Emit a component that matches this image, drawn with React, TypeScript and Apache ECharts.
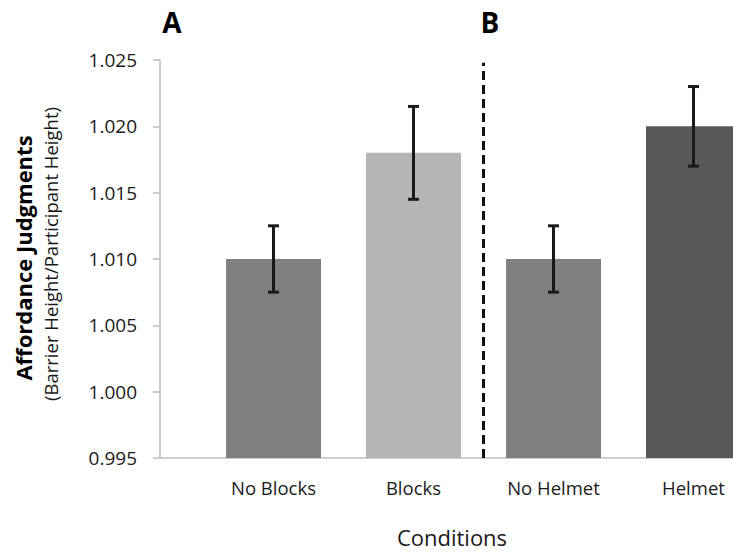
import React, { useEffect, useRef } from "react";
import * as echarts from "echarts";

const categories = ["No Blocks", "Blocks", "No Helmet", "Helmet"];
const means = [1.01, 1.018, 1.01, 1.02];
const errors = [0.0025, 0.0035, 0.0025, 0.003];
const barColors = ["#808080", "#b4b5b7", "#808080", "#595959"];
const yMin = 0.995;
const yMax = 1.025;
const yInterval = 0.005;
const dividerPosition = 1.5;
const dividerTop = 1.0248;
const panelLabels = ["A", "B"];

const FONT = "Open Sans";

export default function App() {
  const ref = useRef<HTMLDivElement>(null);
  useEffect(() => {
    if (!ref.current) return;
    const chart = echarts.init(ref.current, undefined, { renderer: "svg" });
    const option: any = {
      animation: false,
      backgroundColor: "#ffffff",
      textStyle: { fontFamily: FONT },
      grid: [
        { left: 203.5, width: 560, top: 60, height: 398, outerBoundsMode: "none", containLabel: false },
        { left: 160, right: 0, top: 60, height: 398, outerBoundsMode: "none", containLabel: false },
      ],
      xAxis: [
        {
          type: "category",
          gridIndex: 0,
          data: categories,
          axisLine: { show: false },
          axisTick: { show: false },
          axisLabel: { fontSize: 18.5, color: "#1a1a1a", margin: 20, fontFamily: FONT },
        },
        { type: "value", gridIndex: 0, min: -0.5, max: 3.5, show: false },
        {
          type: "value",
          gridIndex: 1,
          min: 0,
          max: 1,
          axisLine: { show: true, lineStyle: { color: "#bdbdbd", width: 1.5 } },
          axisTick: { show: false },
          axisLabel: { show: false },
          splitLine: { show: false },
        },
      ],
      yAxis: [
        { type: "value", gridIndex: 0, min: yMin, max: yMax, show: false },
        {
          type: "value",
          gridIndex: 1,
          min: yMin,
          max: yMax,
          interval: yInterval,
          axisLine: { show: true, lineStyle: { color: "#bdbdbd", width: 1.5 } },
          axisTick: { show: true, length: 7, lineStyle: { color: "#bdbdbd", width: 1.5 } },
          axisLabel: {
            fontSize: 19,
            color: "#1a1a1a",
            margin: 23,
            fontFamily: FONT,
            formatter: (v: number) => v.toFixed(3),
          },
          splitLine: { show: false },
        },
      ],
      series: [
        {
          type: "bar",
          xAxisIndex: 0,
          yAxisIndex: 0,
          barWidth: 95,
          z: 2,
          data: means.map((v, i) => ({ value: v, itemStyle: { color: barColors[i] } })),
        },
        {
          type: "custom",
          xAxisIndex: 0,
          yAxisIndex: 0,
          z: 10,
          data: means.map((m, i) => [i, m - errors[i], m + errors[i]]),
          renderItem: (params: any, api: any) => {
            const lo = api.coord([api.value(0), api.value(1)]);
            const hi = api.coord([api.value(0), api.value(2)]);
            const cap = 5.5;
            const style = { stroke: "#1a1a1a", lineWidth: 3 };
            return {
              type: "group",
              children: [
                { type: "line", shape: { x1: lo[0], y1: lo[1], x2: hi[0], y2: hi[1] }, style },
                { type: "line", shape: { x1: lo[0] - cap, y1: lo[1], x2: lo[0] + cap, y2: lo[1] }, style },
                { type: "line", shape: { x1: hi[0] - cap, y1: hi[1], x2: hi[0] + cap, y2: hi[1] }, style },
              ],
            };
          },
        },
        {
          type: "line",
          xAxisIndex: 1,
          yAxisIndex: 0,
          symbol: "none",
          z: 5,
          lineStyle: { color: "#111111", width: 3, type: [9, 5] },
          data: [
            [dividerPosition, yMin],
            [dividerPosition, dividerTop],
          ],
        },
      ],
      graphic: [
        {
          type: "text",
          x: 172,
          y: 22,
          style: { text: panelLabels[0], fontFamily: FONT, fontSize: 28, fontWeight: "bold", fill: "#000", align: "center", verticalAlign: "middle" },
        },
        {
          type: "text",
          x: 490,
          y: 22,
          style: { text: panelLabels[1], fontFamily: FONT, fontSize: 28, fontWeight: "bold", fill: "#000", align: "center", verticalAlign: "middle" },
        },
        {
          type: "text",
          x: 452,
          y: 537,
          style: { text: "Conditions", fontFamily: FONT, fontSize: 22, fill: "#1a1a1a", align: "center", verticalAlign: "middle" },
        },
        {
          type: "text",
          x: 23,
          y: 258,
          rotation: Math.PI / 2,
          style: { text: "Affordance Judgments", fontFamily: FONT, fontSize: 22, fontWeight: "bold", fill: "#000", align: "center", verticalAlign: "middle" },
        },
        {
          type: "text",
          x: 50,
          y: 254,
          rotation: Math.PI / 2,
          style: {
            text: "(Barrier Height/Participant Height)",
            fontFamily: FONT,
            fontSize: 18.5,
            fill: "#1a1a1a",
            align: "center",
            verticalAlign: "middle",
          },
        },
      ],
    };
    chart.setOption(option);
    return () => chart.dispose();
  }, []);
  return <div ref={ref} style={{ position: "fixed", left: 0, top: 0, width: 733, height: 552 }} />;
}
